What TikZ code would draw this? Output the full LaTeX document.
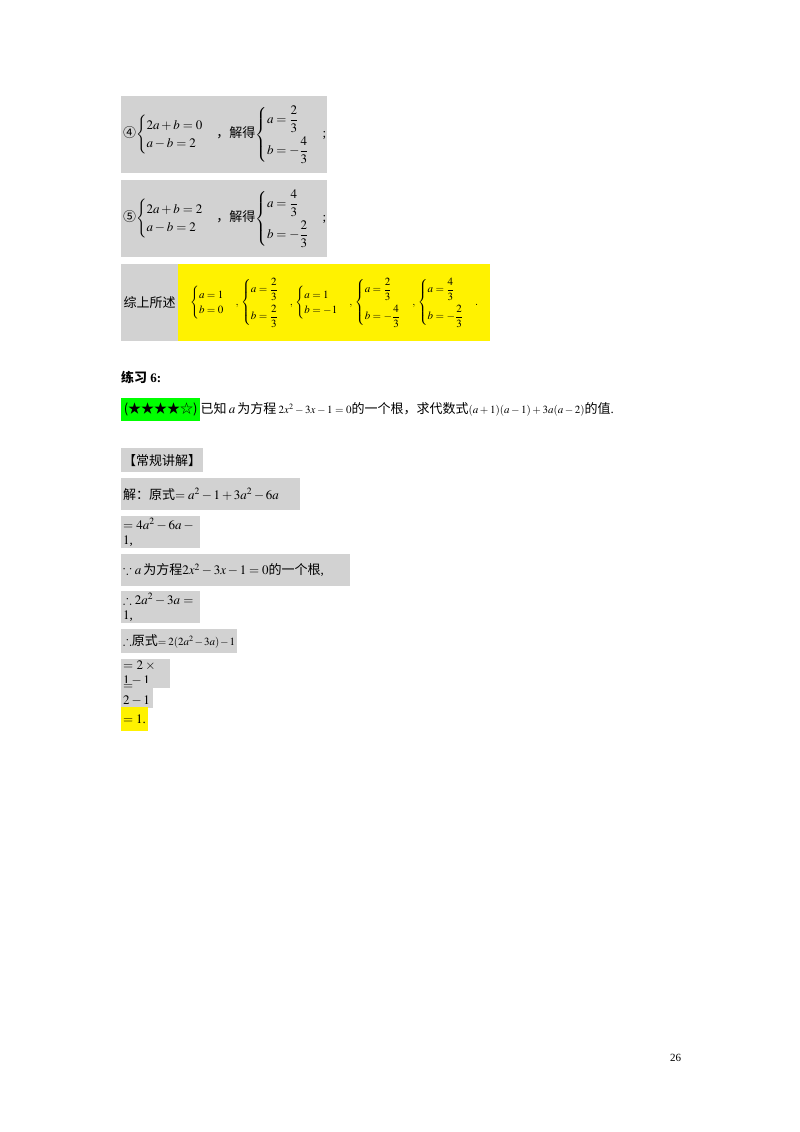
\documentclass[tikz,border=0pt]{standalone}
\usepackage{amsmath,amssymb}
\usepackage{mathptmx}
\usepackage{fontspec}
\setmainfont{Liberation Serif}
\newfontfamily\cjk{Noto Sans CJK SC}
\usetikzlibrary{positioning}
\tikzset{
  greybox/.style={fill=gray!35, inner sep=2pt, anchor=north west, align=left},
  yelbox/.style={fill=yellow, inner sep=2pt, anchor=north west, align=left},
  plain/.style={inner sep=0pt, anchor=west}
}
\newcommand{\zh}[1]{{\cjk #1}}
\begin{document}
\begin{tikzpicture}[x=1pt,y=-1pt,font=\fontsize{13}{15}\selectfont]
  \useasboundingbox (0,0) rectangle (800,1132);

  % Case boxes
  \node[greybox, text width=202, minimum height=77] (case4) at (121,96)
    {\zh{④}$\begin{cases}2a+b=0\\a-b=2\end{cases}$\zh{，解得}$\begin{cases}a=\dfrac23\\[8pt] b=-\dfrac43\end{cases}$;};
  \node[greybox, text width=202, minimum height=77] (case5) at (121,180)
    {\zh{⑤}$\begin{cases}2a+b=2\\a-b=2\end{cases}$\zh{，解得}$\begin{cases}a=\dfrac43\\[8pt] b=-\dfrac23\end{cases}$;};

  % Summary
  \node[greybox, minimum width=57, minimum height=77] (sumlab) at (121,264) {\zh{综上所述}};
  \node[yelbox, minimum width=312, minimum height=77, inner sep=0pt] (sumres) at (178,264)
    {\fontsize{11}{13}\selectfont$\begin{cases}a=1\\b=0\end{cases}\!,\,
      \begin{cases}a=\dfrac23\\[8pt] b=\dfrac23\end{cases}\!,\,
      \begin{cases}a=1\\b=-1\end{cases}\!,\,
      \begin{cases}a=\dfrac23\\[8pt] b=-\dfrac43\end{cases}\!,\,
      \begin{cases}a=\dfrac43\\[8pt] b=-\dfrac23\end{cases}\!.$};

  % Exercise
  \node[plain, font=\fontsize{13}{15}\selectfont\bfseries] (title) at (121,377) {\zh{\bfseries 练习} 6:};
  \node[fill=green, minimum width=79, minimum height=23, inner sep=0pt, anchor=north west] (stars) at (121,398)
    {\zh{(★★★★☆)}};
  \node[plain, right=0pt of stars] (question)
    {\zh{已知}\,$a$\,\zh{为方程}\,{\fontsize{11}{13}\selectfont$2x^2-3x-1=0$}\zh{的一个根，求代数式}{\fontsize{11}{13}\selectfont$(a+1)(a-1)+3a(a-2)$}\zh{的值}.};

  % Solution
  \node[greybox, minimum width=82, minimum height=24] (head) at (121,448) {\zh{【常规讲解】}};
  \node[greybox, text width=175, minimum height=32] (step1) at (121,478)
    {\zh{解：原式}$=a^2-1+3a^2-6a$};
  \node[greybox, text width=75, minimum height=32] (step2) at (121,516) {$=4a^2-6a-1$,};
  \node[greybox, text width=225, minimum height=32] (step3) at (121,554)
    {$\because a$\,\zh{为方程}$2x^2-3x-1=0$\zh{的一个根},};
  \node[greybox, text width=75, minimum height=32] (step4) at (121,591) {$\therefore 2a^2-3a=1$,};
  \node[greybox, text width=112, minimum height=24] (step5) at (121,629)
    {$\therefore$\zh{原式}{\fontsize{11}{13}\selectfont$=2(2a^2-3a)-1$}};
  \node[greybox, text width=45, minimum height=24] (step6) at (121,659) {$=2\times1-1$};
  \node[greybox, text width=28, minimum height=24] (step7) at (121,683) {$=2-1$};
  \node[yelbox, text width=23, minimum height=24] (step8) at (121,707) {$=1$.};

  % Page number
  \node[plain, font=\fontsize{11}{13}\selectfont] (page) at (670,1058) {26};
\end{tikzpicture}
\end{document}
